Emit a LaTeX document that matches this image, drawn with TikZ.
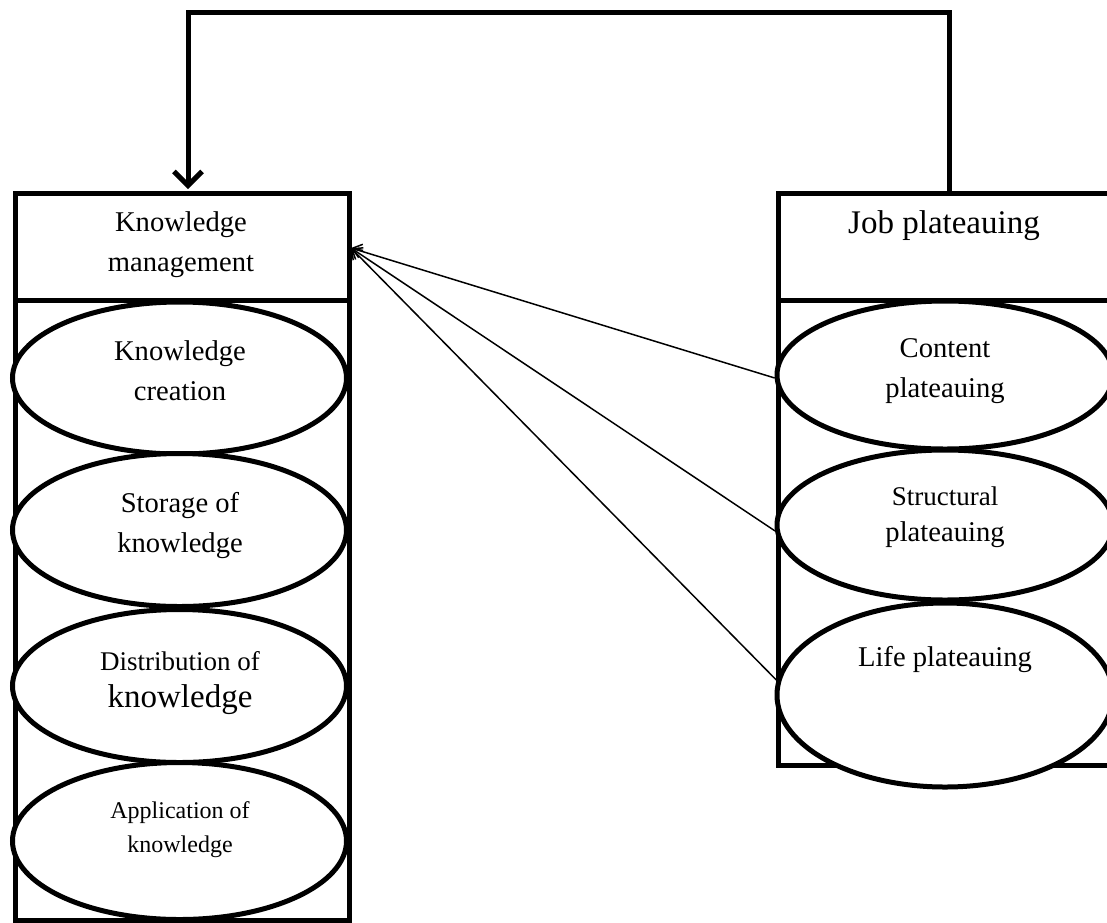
\documentclass[tikz,border=0pt]{standalone}
\usepackage{fontspec}
\setmainfont{Liberation Serif}
\usetikzlibrary{shapes.geometric,arrows.meta}
\begin{document}
\begin{tikzpicture}[x=1pt,y=-1pt,
  box/.style={draw,line width=5pt,inner sep=0pt,rectangle,anchor=north west},
  oval/.style={draw,fill=white,line width=5pt,ellipse,inner sep=0pt},
  txt/.style={align=center,inner sep=0pt,font=\fontsize{28.6pt}{40pt}\selectfont},
  thinarr/.style={line width=1.5pt,-{Straight Barb[length=9pt,width=14pt]}},
  fbarr/.style={line width=5pt,line join=miter,-{Straight Barb[length=14pt,width=28pt,line width=5pt]}},
  ]
\clip (0,0) rectangle (1107,922);
\fill[white] (0,0) rectangle (1107,922);
% left boxes
\node[box,minimum width=334pt,minimum height=107pt] (kmh) at (12.5,191) {};
\node[box,minimum width=334pt,minimum height=620pt] (kmb) at (12.5,298) {};
% right boxes
\node[box,minimum width=345pt,minimum height=107pt] (jph) at (776,191) {};
\node[box,minimum width=345pt,minimum height=465pt] (jpb) at (776,298) {};
% left ellipses
\node[oval,minimum width=334pt,minimum height=152pt] (E1) at (179.5,378) {};
\node[oval,minimum width=334pt,minimum height=153pt] (E2) at (179.5,530) {};
\node[oval,minimum width=334pt,minimum height=153pt] (E3) at (179.5,686) {};
\node[oval,minimum width=334pt,minimum height=157pt] (E4) at (179.5,841) {};
% right ellipses
\node[oval,minimum width=336pt,minimum height=148pt] (R1) at (945,375) {};
\node[oval,minimum width=336pt,minimum height=150pt] (R2) at (945,525) {};
\node[oval,minimum width=336pt,minimum height=184pt] (R3) at (945,695) {};
% texts
\node[txt] (tkm) at (181,245) {Knowledge\\management};
\node[txt,font=\fontsize{33pt}{40pt}\selectfont] (tjp) at (944,226) {Job plateauing};
\node[txt] (t1) at (180,371) {Knowledge\\creation};
\node[txt] (t2) at (180,526) {Storage of\\knowledge};
\node[txt,font=\fontsize{27pt}{30pt}\selectfont] (t3a) at (180,661) {Distribution of};
\node[txt,font=\fontsize{33pt}{40pt}\selectfont] (t3b) at (180,700) {knowledge};
\node[txt,font=\fontsize{24pt}{34pt}\selectfont] (t4) at (180,830) {Application of\\knowledge};
\node[txt] (r1) at (945,371) {Content\\plateauing};
\node[txt,font=\fontsize{27pt}{30pt}\selectfont] (r2a) at (945,496) {Structural};
\node[txt] (r2b) at (945,535) {plateauing};
\node[txt] (r3) at (945,660) {Life plateauing};
% connectors
\coordinate (tip) at (351,248);
\draw[thinarr] (R1.181) -- (tip);
\draw[thinarr] (R2.182.5) -- (tip);
\draw[thinarr] (R3.175) -- (tip);
\coordinate (fbstart) at (949,191);
\coordinate (fbend) at (188,189);
\draw[fbarr] (fbstart) -- (949,12) -- (188,12) -- (fbend);
\end{tikzpicture}
\end{document}
